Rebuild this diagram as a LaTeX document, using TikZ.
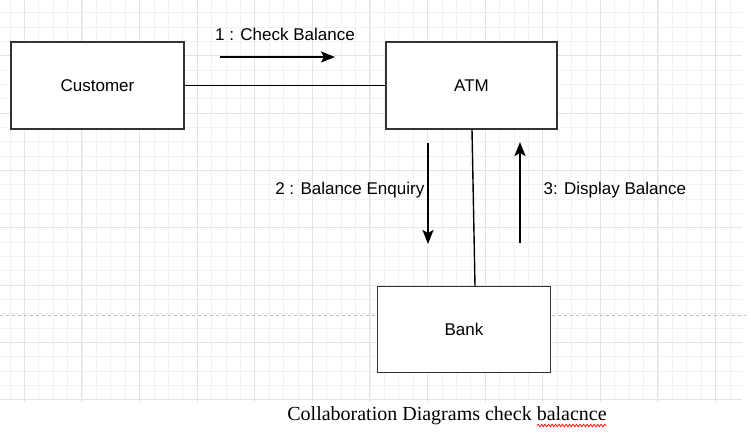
\documentclass[tikz,border=0pt]{standalone}
\usepackage{fontspec}
\setmainfont{Liberation Sans}
\newfontfamily\captionfont{Liberation Serif}
\usepackage{xcolor}
\usetikzlibrary{arrows.meta, calc, decorations.pathmorphing}
\definecolor{gridlight}{HTML}{F2F2F2}
\definecolor{griddark}{HTML}{E3E3E3}
\definecolor{boxgray}{HTML}{333333}
\definecolor{dashgray}{HTML}{BDBDBD}

\tikzset{
  objbox/.style={draw=boxgray, line width=1.5pt, fill=white, minimum width=173pt,
    minimum height=87pt, inner sep=0pt, font=\fontsize{17}{20}\selectfont},
  msg/.style={font=\fontsize{17}{20}\selectfont, inner sep=0pt},
  link/.style={line width=1.4pt, black},
  msgarrow/.style={-{Stealth[length=14pt, width=11pt, inset=3pt]}, line width=1.5pt, black}
}

\begin{document}
\begin{tikzpicture}[x=1pt, y=-1pt]
        \useasboundingbox (0,0) rectangle (751,435);
        % Background grid
        \foreach \i in {1,...,51} {
            \draw [gridlight, line width=0.8pt] ({-4.5+14.4*\i},0) -- ({-4.5+14.4*\i},401.5);
        }
        \foreach \j in {1,...,28} {
            \draw [gridlight, line width=0.8pt] (0,{-1.5+14.33*\j}) -- (742,{-1.5+14.33*\j});
        }
        \foreach \i in {0,...,12} {
            \draw [griddark, line width=0.9pt] ({24.3+57.6*\i},0) -- ({24.3+57.6*\i},401.5);
        }
        \foreach \j in {1,...,7} {
            \draw [griddark, line width=0.9pt] (0,{-1.5+57.32*\j}) -- (742,{-1.5+57.32*\j});
        }
        % Page break line
        \coordinate (pbl) at (0,315);
        \coordinate (pbr) at (746,315);
        \draw [dashgray, line width=0.8pt, dash pattern=on 3pt off 3pt] (pbl) -- (pbr);

        % Objects
        \node[objbox] (customer) at (97.5,85.5) {Customer};
        \node[objbox, minimum width=171pt] (atm) at (471.5,85.5) {ATM};
        \node[objbox, minimum height=86pt] (bank) at (464,329.7) {Bank};

        % Links
        \draw [link] (customer.east) -- (atm.west);
        \draw [link] ([xshift=0.5pt]atm.south) -- ([xshift=11pt]bank.north);

        % Messages
        \coordinate (m1a) at (220,57);
        \coordinate (m1b) at (335,57);
        \draw [msgarrow] (m1a) -- (m1b);
        \node[msg] (m1) at (285,34) {1 : Check Balance};

        \coordinate (m2a) at (428,143);
        \coordinate (m2b) at (428,244);
        \draw [msgarrow] (m2a) -- (m2b);
        \node[msg, anchor=east] (m2) at (424.5,190.5) {2 : Balance Enquiry};

        \coordinate (m3a) at (520,243);
        \coordinate (m3b) at (520,142);
        \draw [msgarrow] (m3a) -- (m3b);
        \node[msg, anchor=west] (m3) at (543.5,190.5) {3: Display Balance};

        % Caption
        \node[inner sep=0pt, font=\captionfont\fontsize{20}{24}\selectfont] (caption) at (447,416) {Collaboration Diagrams check balacnce};
        \coordinate (wava) at (537,425.5);
        \coordinate (wavb) at (606,425.5);
        \draw [red, line width=0.7pt, decorate, decoration={snake, amplitude=1.3pt, segment length=3.5pt}] (wava) -- (wavb);
    \end{tikzpicture}
\end{document}
